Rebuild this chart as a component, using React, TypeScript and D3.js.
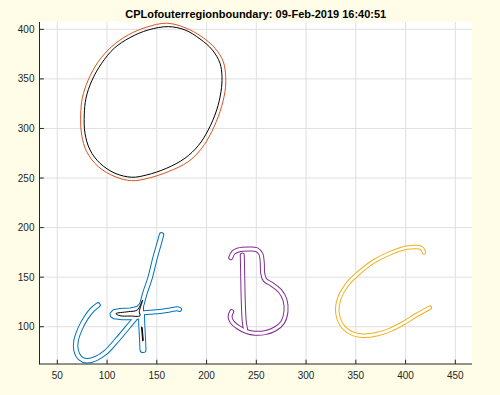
import React from "react";
import * as d3 from "d3";

type P = [number, number];

const TITLE = "CPLofouterregionboundary: 09-Feb-2019 16:40:51";
const xTicks = [50, 100, 150, 200, 250, 300, 350, 400, 450];
const yTicks = [100, 150, 200, 250, 300, 350, 400];
const xDomain: P = [32.1, 466.75];
const yDomain: P = [62.4, 407.4];

// "O" : outer (orange) and inner (black) boundary
const oOuter: P[] = [
  [159.9, 406.2], [178.3, 401.7], [195.1, 392.6], [208.5, 380.9], [216.8, 367.4],
  [219.2, 352.3], [218.5, 337.2], [213.5, 317.0], [205.2, 296.8], [195.1, 280.0],
  [181.6, 266.5], [161.5, 256.4], [141.4, 249.8], [124.8, 247.3], [108.0, 251.4],
  [91.2, 261.5], [79.5, 276.6], [74.5, 293.5], [73.5, 313.6], [75.1, 330.5],
  [81.1, 349.0], [91.2, 367.4], [104.7, 382.6], [121.3, 394.4], [139.8, 402.2],
];
const oInner: P[] = [
  [161.5, 402.7], [178.3, 399.4], [193.4, 390.3], [205.8, 379.2], [213.5, 365.8],
  [215.5, 352.3], [214.5, 337.2], [210.2, 318.7], [201.7, 298.5], [191.7, 282.7],
  [178.3, 270.0], [159.9, 259.9], [139.8, 253.1], [124.8, 250.8], [108.0, 254.8],
  [92.9, 264.9], [82.9, 278.3], [77.8, 295.2], [77.1, 313.6], [78.8, 330.5],
  [84.6, 348.0], [94.6, 365.8], [107.3, 381.0], [122.9, 391.6], [141.4, 399.4],
];

// "A" (blue) : stroke centre lines, crossbar blob and holes (black)
const aMain: P[] = [
  [90.9, 121.9], [84.9, 116.9], [78.8, 108.9], [72.8, 97.7], [68.8, 85.6],
  [68.8, 76.5], [72.8, 68.5], [79.8, 65.6], [88.9, 67.9], [98.9, 74.5],
  [110.0, 86.6], [121.0, 99.7], [129.1, 109.8], [134.1, 119.9], [138.1, 134.0],
  [143.2, 149.2], [148.2, 169.4], [152.2, 183.5], [154.7, 192.6],
];
const aCrossbar: P[] = [
  [134.1, 113.9], [143.2, 114.6], [153.2, 115.4], [163.3, 116.9], [170.3, 118.1], [172.8, 117.4],
];
const aStem: P[] = [
  [134.6, 112.9], [134.9, 101.8], [135.6, 88.6], [136.1, 77.0],
];
const aLoop: P[] = [
  [103.4, 113.4], [106.5, 116.6], [113.0, 117.9], [123.0, 118.4], [130.1, 119.9],
  [134.1, 124.0], [136.1, 122.0], [136.1, 110.8], [133.1, 108.3], [125.0, 107.6],
  [115.0, 107.5], [107.0, 108.5], [103.9, 110.5],
];
const aHole: P[] = [
  [108.9, 113.2], [121.3, 115.2], [130.4, 116.9], [135.8, 127.0], [132.4, 115.2],
  [133.1, 111.1], [123.0, 110.8], [113.0, 111.1],
];
const aSliver: P[] = [
  [134.6, 100.0], [135.3, 99.2], [136.4, 86.2], [135.8, 85.6],
];

// "B" (purple)
const bMain: P[] = [
  [224.3, 169.7], [226.9, 174.8], [231.9, 177.4], [241.9, 178.4], [250.4, 177.7],
  [254.7, 173.1], [256.0, 164.0], [256.4, 154.0], [258.7, 147.2], [265.5, 142.8],
  [273.8, 136.1], [278.8, 127.0], [279.8, 115.2], [276.5, 104.5], [268.8, 97.7],
  [258.7, 94.0], [248.7, 93.4], [240.3, 95.0], [231.9, 99.4], [225.9, 104.5],
  [223.6, 110.1], [225.3, 115.2],
];
const bStem: P[] = [
  [235.9, 172.4], [236.3, 152.2], [236.9, 125.2], [237.9, 105.1], [239.3, 96.7],
];

// "C" (yellow)
const cMain: P[] = [
  [418.3, 174.9], [417.3, 177.9], [414.3, 180.0], [411.0, 180.5], [401.1, 179.8],
  [384.3, 174.1], [367.6, 165.6], [352.5, 153.9], [340.9, 142.1], [333.4, 128.7],
  [331.4, 115.2], [335.8, 101.8], [345.9, 93.4], [357.5, 90.9], [370.9, 92.4],
  [384.3, 96.7], [397.6, 103.5], [411.0, 111.8], [424.4, 119.2],
];

const BLUE = "#0072BD";
const ORANGE = "#D95319";
const YELLOW = "#EDB120";
const PURPLE = "#7E2F8E";

export default function App() {
  const W = 500, H = 395;
  const left = 39.5, right = 472, top = 22, bottom = 364;
  const x = d3.scaleLinear().domain(xDomain).range([left, right]);
  const y = d3.scaleLinear().domain(yDomain).range([bottom, top]);

  const open = d3.line<P>().x(d => x(d[0])).y(d => y(d[1])).curve(d3.curveCatmullRom.alpha(0.5));
  const closed = d3.line<P>().x(d => x(d[0])).y(d => y(d[1])).curve(d3.curveCatmullRomClosed.alpha(0.5));
  const poly = d3.line<P>().x(d => x(d[0])).y(d => y(d[1])).curve(d3.curveLinearClosed);

  const strokes = [
    { d: open(aMain)!, c: BLUE, w: 5.5 },
    { d: open(aCrossbar)!, c: BLUE, w: 5 },
    { d: open(aStem)!, c: BLUE, w: 7 },
    { d: open(bMain)!, c: PURPLE, w: 5 },
    { d: open(bStem)!, c: PURPLE, w: 5 },
    { d: open(cMain)!, c: YELLOW, w: 4.5 },
  ];
  const font = "'Liberation Sans', Arial, Helvetica, sans-serif";

  return (
    <svg width={W} height={H} style={{ position: "absolute", left: 0, top: 0 }}>
      <rect x={0} y={0} width={W} height={H} fill="#fffde7" />
      <rect x={left} y={top} width={right - left} height={bottom - top} fill="#ffffff" />
      <g stroke="#dfdfdf" strokeWidth={1}>
        {xTicks.map(t => (
          <line key={"gx" + t} x1={x(t)} x2={x(t)} y1={top} y2={bottom} />
        ))}
        {yTicks.map(t => (
          <line key={"gy" + t} x1={left} x2={right} y1={y(t)} y2={y(t)} />
        ))}
      </g>

      {/* O */}
      <path d={closed(oOuter)!} fill="none" stroke={ORANGE} strokeWidth={1} />
      <path d={closed(oInner)!} fill="none" stroke="#000000" strokeWidth={1} />

      {/* stroke outlines */}
      <g fill="none" strokeLinecap="round" strokeLinejoin="round">
        {strokes.map((s, i) => (
          <path key={"o" + i} d={s.d} stroke={s.c} strokeWidth={s.w} />
        ))}
        <path d={poly(aLoop)!} stroke={BLUE} strokeWidth={2} />
        {strokes.map((s, i) => (
          <path key={"i" + i} d={s.d} stroke="#ffffff" strokeWidth={s.w - 2} />
        ))}
      </g>
      <path d={poly(aLoop)!} fill="#ffffff" stroke="none" />
      <path d={closed(aHole)!} fill="#ffffff" stroke="#000000" strokeWidth={1} />
      <path d={poly(aSliver)!} fill="#ffffff" stroke="#000000" strokeWidth={1} />

      {/* axes */}
      <g stroke="#262626" strokeWidth={1}>
        <line x1={left} x2={left} y1={top} y2={bottom + 0.5} />
        <line x1={left} x2={right} y1={bottom} y2={bottom} />
        {xTicks.map(t => (
          <line key={"tx" + t} x1={x(t)} x2={x(t)} y1={bottom} y2={bottom - 4.3} />
        ))}
        {yTicks.map(t => (
          <line key={"ty" + t} x1={left} x2={left + 4.3} y1={y(t)} y2={y(t)} />
        ))}
      </g>
      <g fill="#262626" fontFamily={font} fontSize={10}>
        {xTicks.map(t => (
          <text key={"lx" + t} x={x(t)} y={378.6} textAnchor="middle">{t}</text>
        ))}
        {yTicks.map(t => (
          <text key={"ly" + t} x={34.5} y={y(t)} dy="0.35em" textAnchor="end">{t}</text>
        ))}
      </g>
      <text x={(left + right) / 2} y={17.5} textAnchor="middle" fontFamily={font}
        fontSize={11} fontWeight="bold" fill="#000000">{TITLE}</text>
    </svg>
  );
}
